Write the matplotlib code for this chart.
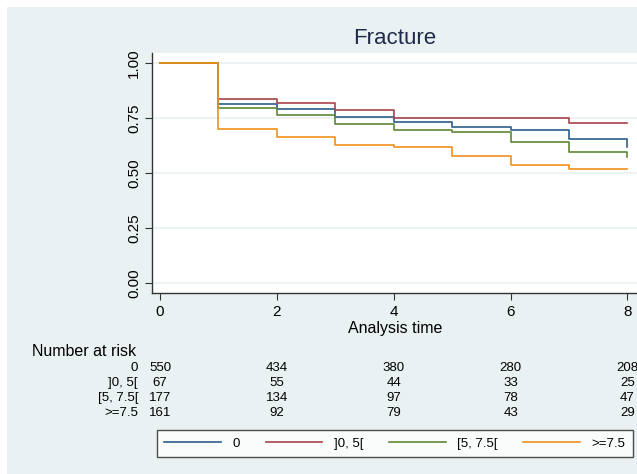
import matplotlib
matplotlib.use("Agg")
import matplotlib.pyplot as plt
from matplotlib.patches import Rectangle
from matplotlib.transforms import blended_transform_factory

plt.rcParams['font.family'] = ['Liberation Sans', 'DejaVu Sans']

# survival estimates, one value per year 0..8
times = [0, 1, 2, 3, 4, 5, 6, 7, 8]
surv_0 = [1.0, 0.812, 0.789, 0.756, 0.730, 0.708, 0.695, 0.653, 0.618]
surv_0_5 = [1.0, 0.836, 0.820, 0.785, 0.750, 0.750, 0.750, 0.726, 0.726]
surv_5_75 = [1.0, 0.795, 0.765, 0.724, 0.695, 0.686, 0.641, 0.594, 0.573]
surv_75 = [1.0, 0.700, 0.662, 0.626, 0.618, 0.576, 0.536, 0.518, 0.518]

groups = ['0', ']0, 5[', '[5, 7.5[', '>=7.5']
colors = ['#2e5d8c', '#a9424b', '#5e8736', '#f0901c']

# number at risk
risk_times = [0, 2, 4, 6, 8]
risk_0 = [550, 434, 380, 280, 208]
risk_0_5 = [67, 55, 44, 33, 25]
risk_5_75 = [177, 134, 97, 78, 47]
risk_75 = [161, 92, 79, 43, 29]

W, H = 637, 474
bg = '#eaf1f3'
fig = plt.figure(figsize=(W / 100, H / 100), dpi=100, facecolor='white')
fig.patches.append(Rectangle((7 / W, 0), 1 - 7 / W, 1 - 7 / H, transform=fig.transFigure,
                             facecolor=bg, edgecolor='none', zorder=-10))

ax = fig.add_axes([152 / W, (H - 293) / H, (W - 152) / W, 240 / H])
ax.set_facecolor('white')

for s, c, g in zip([surv_0, surv_0_5, surv_5_75, surv_75], colors, groups):
    ax.step(times, s, where='post', color=c, lw=1.2, label=g)

ax.set_xlim(-0.137, 8.163)
ax.set_ylim(-0.045, 1.045)
ax.set_xticks([0, 2, 4, 6, 8])
ax.set_yticks([0, 0.25, 0.5, 0.75, 1.0])
ax.set_yticklabels(['0.00', '0.25', '0.50', '0.75', '1.00'], rotation=90, va='center')
ax.tick_params(axis='both', labelsize=11, length=5, width=0.8, color='#333333', direction='out')
ax.tick_params(axis='y', pad=3)
ax.yaxis.grid(True, color=bg, lw=1.2)
ax.set_axisbelow(True)
for sp in ['top', 'right']:
    ax.spines[sp].set_visible(False)
for sp in ['left', 'bottom']:
    ax.spines[sp].set_color('#333333')
    ax.spines[sp].set_linewidth(1.0)

fig.text(395 / W, 1 - 38 / H, 'Fracture', ha='center', va='center', fontsize=16, color='#1f2b4a')
fig.text(395 / W, 1 - 328 / H, 'Analysis time', ha='center', va='center', fontsize=11.5)
fig.text(32 / W, 1 - 352 / H, 'Number at risk', ha='left', va='center', fontsize=11.5)

tr = blended_transform_factory(ax.transData, fig.transFigure)
rows_y = [368, 383, 398, 413]
for g, r, y in zip(groups, [risk_0, risk_0_5, risk_5_75, risk_75], rows_y):
    fig.text(138 / W, 1 - y / H, g, ha='right', va='center', fontsize=9.5)
    for t, n in zip(risk_times, r):
        ax.text(t, 1 - y / H, str(n), transform=tr, ha='center', va='center', fontsize=9.5)

leg = fig.legend(loc='lower left', bbox_to_anchor=(157 / W, 17 / H, 476 / W, 30 / H),
                 mode='expand', ncol=4, fontsize=9.5, frameon=True, fancybox=False,
                 handlelength=4.3, handletextpad=0.9, borderaxespad=0, borderpad=0.55)
leg.get_frame().set_edgecolor('#222222')
leg.get_frame().set_linewidth(1.0)

fig.savefig('out.png', dpi=100, facecolor=fig.get_facecolor())
